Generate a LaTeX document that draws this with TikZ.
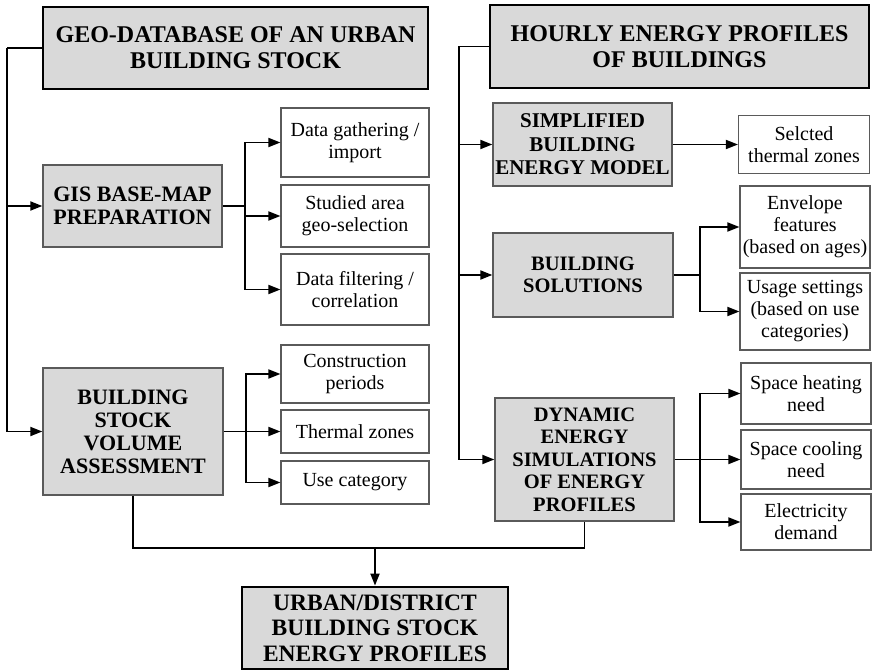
\documentclass[tikz,border=0pt]{standalone}
\usepackage{fontspec}
\setmainfont{Liberation Serif}
\usetikzlibrary{arrows.meta, positioning}
\definecolor{mBoxGray}{HTML}{D9D9D9}
\definecolor{mEdgeGray}{HTML}{5A5A5A}
\tikzset{
  headbox/.style={draw=black, line width=2.8pt, fill=mBoxGray, align=center, inner sep=2pt, font=\bfseries\fontsize{24}{26}\selectfont},
  stepbox/.style={draw=mEdgeGray, line width=1.3pt, fill=mBoxGray, align=center, inner sep=2pt, font=\bfseries\fontsize{22}{23}\selectfont},
  leafbox/.style={draw=mEdgeGray, line width=1.2pt, fill=white, align=center, inner sep=2pt, font=\fontsize{20}{22}\selectfont},
  wire/.style={line width=1.8pt},
  link/.style={wire, -{Triangle[length=12pt, width=9pt]}}
}
\begin{document}
\begin{tikzpicture}[x=1pt, y=-1pt]
    \useasboundingbox (0,0) rectangle (873,671);
    % left column
    \node[headbox, minimum width=385pt, minimum height=82pt] (geo) at (235.5,48) {GEO-DATABASE OF AN URBAN\\BUILDING STOCK};
    \node[stepbox, minimum width=179pt, minimum height=82pt] (gis) at (132.5,206) {GIS BASE-MAP\\PREPARATION};
    \node[leafbox, minimum width=148pt, minimum height=69pt] (gather) at (355,142.5) {Data gathering /\\import};
    \node[leafbox, minimum width=148pt, minimum height=62pt] (studied) at (355,216) {Studied area\\geo-selection};
    \node[leafbox, minimum width=148pt, minimum height=71pt] (filter) at (355,289.5) {Data filtering /\\correlation};
    \node[stepbox, minimum width=180pt, minimum height=127pt] (volume) at (133,431.5) {BUILDING\\STOCK\\VOLUME\\ASSESSMENT};
    \node[leafbox, minimum width=148pt, minimum height=58pt] (periods) at (355,374) {Construction\\periods};
    \node[leafbox, minimum width=148pt, minimum height=43pt] (zones) at (355,431.5) {Thermal zones};
    \node[leafbox, minimum width=148pt, minimum height=43pt] (usecat) at (355,482.5) {Use category};
    % right column
    \node[headbox, minimum width=379pt, minimum height=83pt] (hourly) at (679.5,46.5) {HOURLY ENERGY PROFILES\\OF BUILDINGS};
    \node[stepbox, minimum width=179pt, minimum height=83pt, font=\bfseries\fontsize{21}{23.5}\selectfont] (model) at (582.5,144.5) {SIMPLIFIED\\BUILDING\\ENERGY MODEL};
    \node[leafbox, minimum width=131pt, minimum height=58pt] (selected) at (804,144.5) {Selcted\\thermal zones};
    \node[stepbox, minimum width=180pt, minimum height=84pt, font=\bfseries\fontsize{20.5}{22.5}\selectfont] (solutions) at (583,275) {BUILDING\\SOLUTIONS};
    \node[leafbox, minimum width=130pt, minimum height=82pt] (envelope) at (805,227) {Envelope\\features\\(based on ages)};
    \node[leafbox, minimum width=130pt, minimum height=77pt] (usage) at (805,311.5) {Usage settings\\(based on use\\categories)};
    \node[stepbox, minimum width=179pt, minimum height=123pt, font=\bfseries\fontsize{20.5}{22.5}\selectfont] (dynamic) at (584.5,459.5) {DYNAMIC\\ENERGY\\SIMULATIONS\\OF ENERGY\\PROFILES};
    \node[leafbox, minimum width=130pt, minimum height=61pt] (heating) at (806,393.5) {Space heating\\need};
    \node[leafbox, minimum width=130pt, minimum height=59pt] (cooling) at (806,459.5) {Space cooling\\need};
    \node[leafbox, minimum width=130pt, minimum height=56pt] (electric) at (806,522) {Electricity\\demand};
    % result
    \node[headbox, minimum width=266pt, minimum height=82pt, font=\bfseries\fontsize{23.5}{25.5}\selectfont] (urban) at (375,628) {URBAN/DISTRICT\\BUILDING STOCK\\ENERGY PROFILES};

    \draw[wire] (geo.west) -- ++(-35,0) coordinate (ltrunk);
    \draw[link] (ltrunk) |- (gis.west);
    \draw[link] (ltrunk) |- (volume.west);
    \draw[wire] (gis.east) -- ++(22,0) coordinate (gisfork);
    \foreach \n in {gather,studied,filter}
      \draw[link] (gisfork) |- (\n.west);
    \draw[wire] (volume.east) -- ++(22,0) coordinate (volfork);
    \foreach \n in {periods,zones,usecat}
      \draw[link] (volfork) |- (\n.west);

    \draw[wire] (hourly.west) -- ++(-30,0) coordinate (rtrunk);
    \foreach \n in {model,solutions,dynamic}
      \draw[link] (rtrunk) |- (\n.west);
    \draw[link] (model.east) -- (selected.west);
    \draw[wire] (solutions.east) -- ++(26,0) coordinate (solfork);
    \foreach \n in {envelope,usage}
      \draw[link] (solfork) |- (\n.west);
    \draw[wire] (dynamic.east) -- ++(25,0) coordinate (dynfork);
    \foreach \n in {heating,cooling,electric}
      \draw[link] (dynfork) |- (\n.west);

    \coordinate (merge) at (375,548);
    \draw[wire] (volume.south) |- (merge) -| (dynamic.south);
    \draw[link] (merge) -- (urban.north);
  \end{tikzpicture}
\end{document}
